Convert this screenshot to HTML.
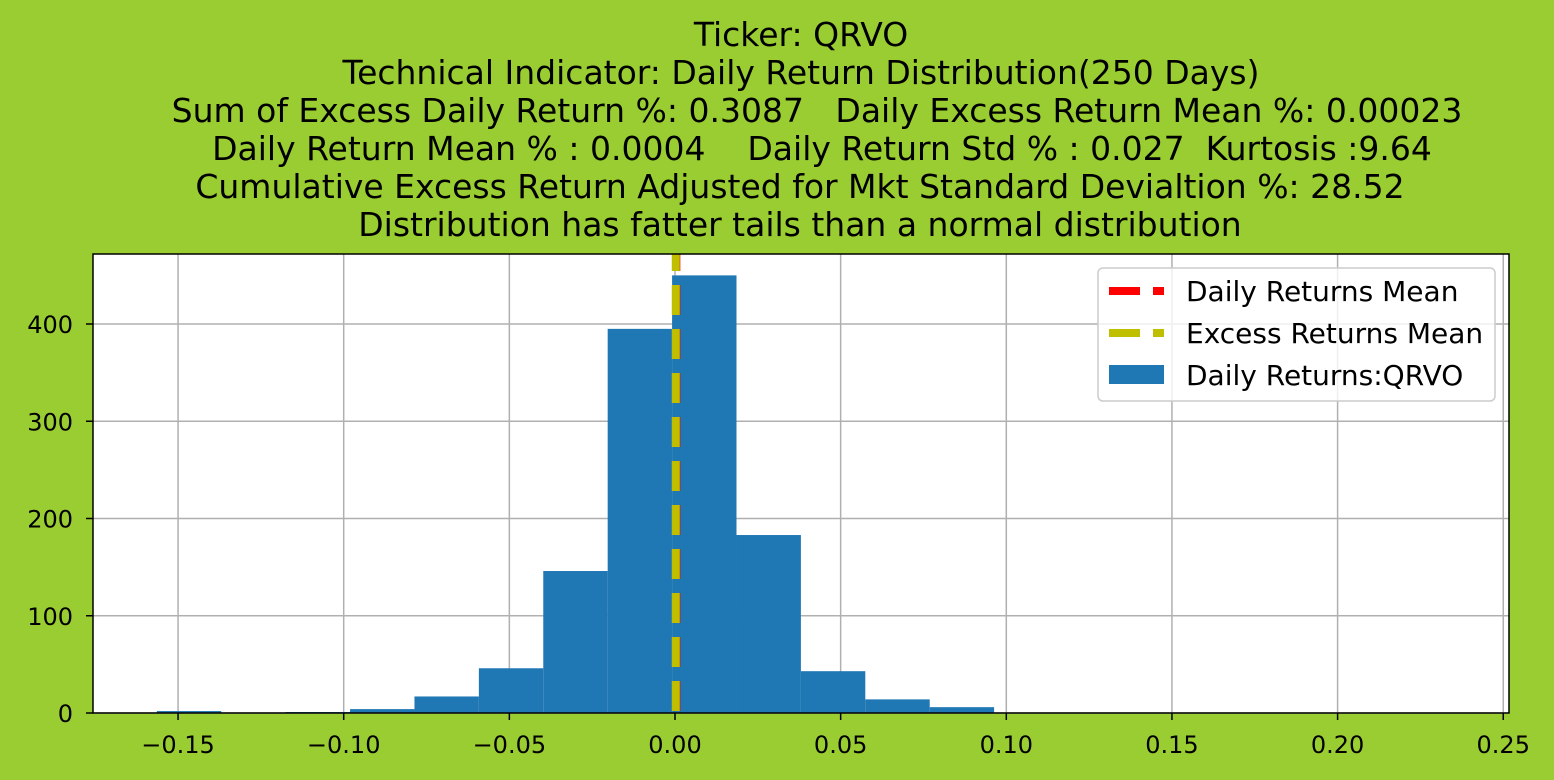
<!DOCTYPE html>
<html><head><meta charset="utf-8"><style>
html,body{margin:0;background:#9acd32;overflow:hidden;}
svg{display:block;}
svg text{font-family:"DejaVu Sans","Liberation Sans",sans-serif;white-space:pre;}
</style></head><body>
<svg width="1554" height="780" xmlns="http://www.w3.org/2000/svg">
<rect width="1554" height="780" fill="#9acd32"/>
<g id="title" font-size="33" text-anchor="middle" fill="#000" xml:space="preserve">
<text x="801" y="46">Ticker: QRVO</text>
<text x="801" y="84">Technical Indicator: Daily Return Distribution(250 Days)</text>
<text x="817" y="122">Sum of Excess Daily Return %: 0.3087   Daily Excess Return Mean %: 0.00023</text>
<text x="822" y="160">Daily Return Mean % : 0.0004    Daily Return Std % : 0.027  Kurtosis :9.64</text>
<text x="800" y="198">Cumulative Excess Return Adjusted for Mkt Standard Devialtion %: 28.52</text>
<text x="800" y="236">Distribution has fatter tails than a normal distribution</text>
</g>
<rect x="93" y="254" width="1416" height="459" fill="#fff"/>
<g id="grid"></g>
<g id="bars"></g>
<g id="lines"></g>
<rect x="93" y="254" width="1416" height="459" fill="none" stroke="#000" stroke-width="1.5"/>
<g id="ticks" font-size="24" fill="#000"></g>
<g>
<rect x="1098" y="268" width="397" height="133" rx="5" fill="#fff" fill-opacity="0.8" stroke="#ccc" stroke-width="1.5"/>
<line x1="1109" y1="291" x2="1164" y2="291" stroke="red" stroke-width="8" stroke-dasharray="31,13"/>
<text x="1186" y="301" font-size="28">Daily Returns Mean</text>
<line x1="1109" y1="333" x2="1164" y2="333" stroke="#bfbf00" stroke-width="8" stroke-dasharray="31,13"/>
<text x="1186" y="343" font-size="28">Excess Returns Mean</text>
<rect x="1109" y="365" width="55" height="19" fill="#1f77b4"/>
<text x="1186" y="385" font-size="28">Daily Returns:QRVO</text>
</g>
</svg>
<script>
const binStart = -0.1564;
const binWidth = 0.01944;
const counts = [2,0,1,4,17,46,146,395,450,183,43,14,6];
const xTicks = [-0.15,-0.10,-0.05,0.00,0.05,0.10,0.15,0.20,0.25];
const xTickLabels = ["\u22120.15","\u22120.10","\u22120.05","0.00","0.05","0.10","0.15","0.20","0.25"];
const yTicks = [0,100,200,300,400];
const dailyMean = 0.0004;
const excessMean = 0.00023;

const NS="http://www.w3.org/2000/svg";
function X(v){return 675+v*3313;}
function Y(v){return 713-v*0.9725;}
function mk(t,a,p){const e=document.createElementNS(NS,t);for(const k in a)e.setAttribute(k,a[k]);p.appendChild(e);return e;}
const grid=document.getElementById('grid'),bars=document.getElementById('bars'),lines=document.getElementById('lines'),ticks=document.getElementById('ticks');
xTicks.forEach((v,i)=>{
  const g=mk('line',{x1:X(v),x2:X(v),y1:254,y2:713,stroke:'#b0b0b0','stroke-width':1.5},grid);
  
  
  const t=mk('line',{x1:X(v),x2:X(v),y1:713,y2:720,stroke:'#000','stroke-width':1.5},ticks);
  
  
  const l=mk('text',{x:X(v),y:753,'text-anchor':'middle'},ticks);
  l.textContent=xTickLabels[i];
  
  
});
yTicks.forEach(v=>{
  const g=mk('line',{x1:93,x2:1509,y1:Y(v),y2:Y(v),stroke:'#b0b0b0','stroke-width':1.5},grid);
  
  
  const t=mk('line',{x1:86,x2:93,y1:Y(v),y2:Y(v),stroke:'#000','stroke-width':1.5},ticks);
  
  
  const l=mk('text',{x:73,y:Y(v)+9,'text-anchor':'end'},ticks);
  l.textContent=v;
  
  
});
counts.forEach((c,i)=>{
  const x0=X(binStart+i*binWidth),x1=X(binStart+(i+1)*binWidth);
  const r=mk('rect',{x:x0,y:Y(c),width:x1-x0,height:Y(0)-Y(c),fill:'#1f77b4'},bars);
  
  
});
const m1=mk('line',{x1:X(dailyMean),x2:X(dailyMean),y1:254,y2:713,stroke:'red','stroke-width':8,'stroke-dasharray':'30,14','stroke-dashoffset':13},lines);


const m2=mk('line',{x1:X(excessMean),x2:X(excessMean),y1:254,y2:713,stroke:'#bfbf00','stroke-width':8,'stroke-dasharray':'30,14','stroke-dashoffset':13},lines);


</script>
</body></html>
